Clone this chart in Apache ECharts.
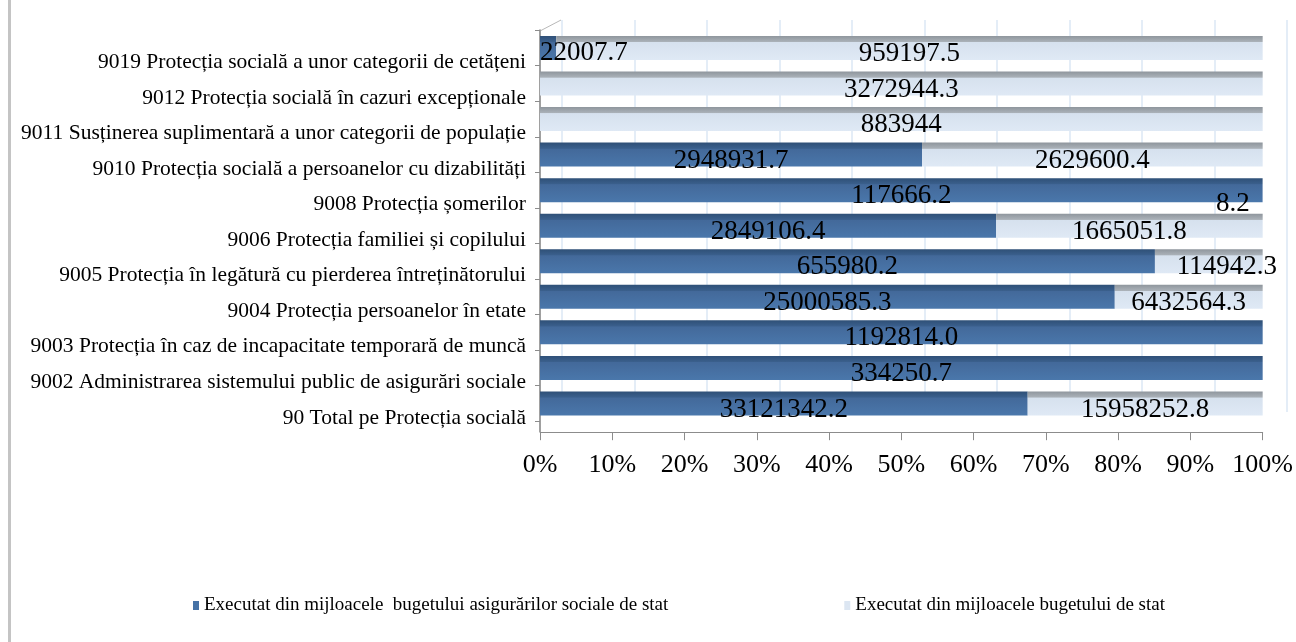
<!DOCTYPE html>
<html>
<head>
<meta charset="utf-8">
<script src="https://cdn.jsdelivr.net/npm/echarts@6/dist/echarts.min.js"></script>
<style>
html,body{margin:0;padding:0;background:#fff;}
#chart{width:1296px;height:642px;}
</style>
</head>
<body>
<div id="chart"></div>
<script>
// Categories, top to bottom as shown
const categories = [
  '9019 Protecția socială a unor categorii de cetățeni',
  '9012 Protecția socială în cazuri excepționale',
  '9011 Susținerea suplimentară a unor categorii de populație',
  '9010 Protecția socială a persoanelor cu dizabilități',
  '9008 Protecția șomerilor',
  '9006 Protecția familiei și copilului',
  '9005 Protecția în legătură cu pierderea întreținătorului',
  '9004 Protecția persoanelor în etate',
  '9003 Protecția în caz de incapacitate temporară de muncă',
  '9002 Administrarea sistemului public de asigurări sociale',
  '90 Total pe Protecția socială'
];
// Executat din mijloacele bugetului asigurărilor sociale de stat
const asigurari = ['22007.7', null, null, '2948931.7', '117666.2', '2849106.4', '655980.2', '25000585.3', '1192814.0', '334250.7', '33121342.2'];
// Executat din mijloacele bugetului de stat
const buget = ['959197.5', '3272944.3', '883944', '2629600.4', '8.2', '1665051.8', '114942.3', '6432564.3', null, null, '15958252.8'];
const seriesNames = ['Executat din mijloacele  bugetului asigurărilor sociale de stat', 'Executat din mijloacele bugetului de stat'];
const xTicks = [0, 10, 20, 30, 40, 50, 60, 70, 80, 90, 100];

const num = v => (v === null ? 0 : parseFloat(v));
const totals = categories.map((c, i) => num(asigurari[i]) + num(buget[i]));

function buildData(arr, isLast) {
  return arr.map((v, i) => {
    if (v === null) return { value: 0, raw: null, label: { show: false } };
    const pct = num(v) / totals[i] * 100;
    const item = { value: pct, raw: v };
    if (pct < 1) item.label = { position: 'insideRight', offset: [-8, 14] };
    else if (pct < 5) item.label = { position: 'insideLeft', distance: 0, offset: [0, 5] };
    else if (isLast && pct < 20) item.label = { offset: [18, 6] };
    return item;
  });
}

const serif = 'Liberation Serif, Times New Roman, serif';
const chart = echarts.init(document.getElementById('chart'), null, { renderer: 'canvas' });

const darkGrad = new echarts.graphic.LinearGradient(0, 0, 0, 1, [
  { offset: 0, color: '#2f5077' }, { offset: 0.24, color: '#3a5f8c' },
  { offset: 0.27, color: '#43699a' }, { offset: 1, color: '#4a77ab' }
]);
const lightGrad = new echarts.graphic.LinearGradient(0, 0, 0, 1, [
  { offset: 0, color: '#8f969d' }, { offset: 0.24, color: '#aab1b8' },
  { offset: 0.27, color: '#d6e1ee' }, { offset: 1, color: '#dfe9f5' }
]);

const labelCfg = {
  show: true,
  position: 'inside',
  offset: [0, 6],
  color: '#000',
  fontFamily: serif,
  fontSize: 27,
  formatter: p => (p.data.raw === null ? '' : p.data.raw)
};

chart.setOption({
  animation: false,
  backgroundColor: '#fff',
  graphic: [
    { type: 'rect', left: 8, top: 0, shape: { width: 3, height: 642 }, style: { fill: '#c4c4c4' }, z: 0 },
    { type: 'line', shape: { x1: 540, y1: 31, x2: 561, y2: 20 }, style: { stroke: '#b8b8b8', lineWidth: 1 } },
    { type: 'line', shape: { x1: 540, y1: 421, x2: 540, y2: 432 }, style: { stroke: '#a0a0a0', lineWidth: 2 } }
  ],
  legend: {
    data: [
      { name: seriesNames[0], itemStyle: { color: '#4672a6' } },
      { name: seriesNames[1], itemStyle: { color: '#dce6f2' } }
    ],
    left: 188,
    top: 591,
    itemWidth: 6,
    itemHeight: 9,
    itemGap: 176,
    textStyle: { fontFamily: serif, fontSize: 19, color: '#000' },
    icon: 'rect'
  },
  grid: [
    { left: 540, right: 31, top: 30.2, bottom: 220.8, containLabel: false },
    { left: 562, right: 9, top: 20, bottom: 230, containLabel: false }
  ],
  xAxis: [
    {
      gridIndex: 0,
      type: 'value',
      min: 0, max: 100, interval: 10,
      offset: 11,
      axisLine: { show: true, lineStyle: { color: '#8c8c8c', width: 1 } },
      axisTick: { show: true, length: 8, lineStyle: { color: '#8c8c8c' } },
      axisLabel: { formatter: '{value}%', color: '#000', fontFamily: serif, fontSize: 26, margin: 20 },
      splitLine: { show: false }
    },
    {
      gridIndex: 1,
      type: 'value',
      min: 0, max: 100, interval: 10,
      axisLine: { show: false }, axisTick: { show: false }, axisLabel: { show: false },
      splitLine: { show: true, lineStyle: { color: '#dbe7f4', width: 1.5 } }
    }
  ],
  yAxis: [
    {
      gridIndex: 0,
      type: 'category',
      data: categories,
      inverse: true,
      axisLine: { show: true, lineStyle: { color: '#a0a0a0', width: 2 } },
      axisTick: { show: true, length: 5, lineStyle: { color: '#8c8c8c' } },
      axisLabel: { color: '#000', fontFamily: serif, fontSize: 21.5, margin: 14, verticalAlign: 'top', lineHeight: 29 }
    },
    {
      gridIndex: 1,
      type: 'category',
      data: categories,
      show: false
    }
  ],
  series: [
    {
      name: seriesNames[0],
      type: 'bar',
      stack: 'total',
      barWidth: 24,
      xAxisIndex: 0, yAxisIndex: 0,
      itemStyle: { color: darkGrad },
      label: labelCfg,
      data: buildData(asigurari, false),
      z: 3
    },
    {
      name: seriesNames[1],
      type: 'bar',
      stack: 'total',
      barWidth: 24,
      xAxisIndex: 0, yAxisIndex: 0,
      itemStyle: { color: lightGrad },
      label: labelCfg,
      data: buildData(buget, true),
      z: 3
    }
  ]
});
</script>
</body>
</html>
